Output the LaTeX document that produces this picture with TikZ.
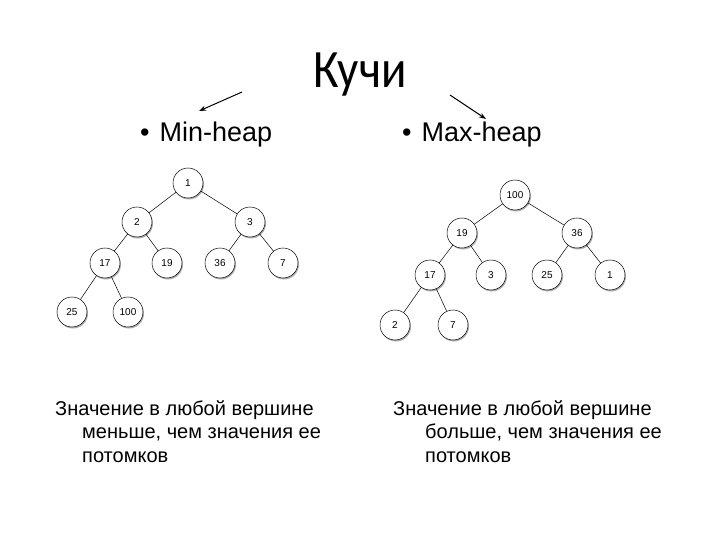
\documentclass[tikz,border=0pt]{standalone}
\usepackage{fontspec}
\setmainfont{Liberation Sans}
\newfontfamily\titlefont{Carlito}
\usetikzlibrary{shadows,arrows.meta}
\tikzset{
  hn/.style={circle, draw=black, line width=0.5pt, fill=white, minimum size=30pt, inner sep=0pt,
    font=\fontsize{10}{10}\selectfont,
    drop shadow={shadow xshift=1pt, shadow yshift=-1.5pt, fill=black!50, opacity=0.65}},
  edge/.style={draw=black, line width=0.5pt},
  arr/.style={draw=black, line width=1pt, -{Stealth[length=7pt,width=5pt]}},
  bul/.style={anchor=base west, inner sep=0pt, font=\fontsize{27}{27}\selectfont},
  para/.style={anchor=base west, inner sep=0pt, align=left, font=\fontsize{20}{23.5}\selectfont}
}
\begin{document}
\begin{tikzpicture}[x=1pt,y=-1pt]
\useasboundingbox (0,0) rectangle (720,540);
\fill[white] (0,0) rectangle (720,540);
% title
\node[anchor=base, inner sep=0pt, font=\titlefont\fontsize{54}{54}\selectfont] (title) at (360,88) {\scalebox{0.87}[1]{Кучи}};
\coordinate (la1) at (242,92);
\coordinate (la2) at (199,111);
\coordinate (ra1) at (450,95);
\coordinate (ra2) at (486,119);
\draw[arr] (la1) -- (la2);
\draw[arr] (ra1) -- (ra2);
% bullets
\node[bul] (minh) at (140,142) {•\hspace{10pt}Min-heap};
\node[bul] (maxh) at (402,142) {•\hspace{10pt}Max-heap};
% left tree
\node[hn] (a1) at (188,183) {1};
\node[hn] (a2) at (137,222) {2};
\node[hn] (a3) at (250,222) {3};
\node[hn] (a17) at (105,263) {17};
\node[hn] (a19) at (167,263) {19};
\node[hn] (a36) at (220,263) {36};
\node[hn] (a7) at (283,263) {7};
\node[hn] (a25) at (72,312) {25};
\node[hn] (a100) at (128,312) {100};
\draw[edge] (a1) -- (a2);
\draw[edge] (a1) -- (a3);
\draw[edge] (a2) -- (a17);
\draw[edge] (a2) -- (a19);
\draw[edge] (a3) -- (a36);
\draw[edge] (a3) -- (a7);
\draw[edge] (a17) -- (a25);
\draw[edge] (a17) -- (a100);
% right tree
\node[hn] (b100) at (515,195) {100};
\node[hn] (b19) at (462,233) {19};
\node[hn] (b36) at (577,233) {36};
\node[hn] (b17) at (430,275) {17};
\node[hn] (b3) at (491,275) {3};
\node[hn] (b25) at (547,275) {25};
\node[hn] (b1) at (610,275) {1};
\node[hn] (b2) at (395,325) {2};
\node[hn] (b7) at (453,325) {7};
\draw[edge] (b100) -- (b19);
\draw[edge] (b100) -- (b36);
\draw[edge] (b19) -- (b17);
\draw[edge] (b19) -- (b3);
\draw[edge] (b36) -- (b25);
\draw[edge] (b36) -- (b1);
\draw[edge] (b17) -- (b2);
\draw[edge] (b17) -- (b7);
% paragraphs
\node[para] (pl) at (55,462) {Значение в любой вершине\\\hspace*{27pt}меньше, чем значения ее\\\hspace*{27pt}потомков};
\node[para] (pr) at (393,462) {Значение в любой вершине\\\hspace*{32pt}больше, чем значения ее\\\hspace*{32pt}потомков};
\end{tikzpicture}
\end{document}
